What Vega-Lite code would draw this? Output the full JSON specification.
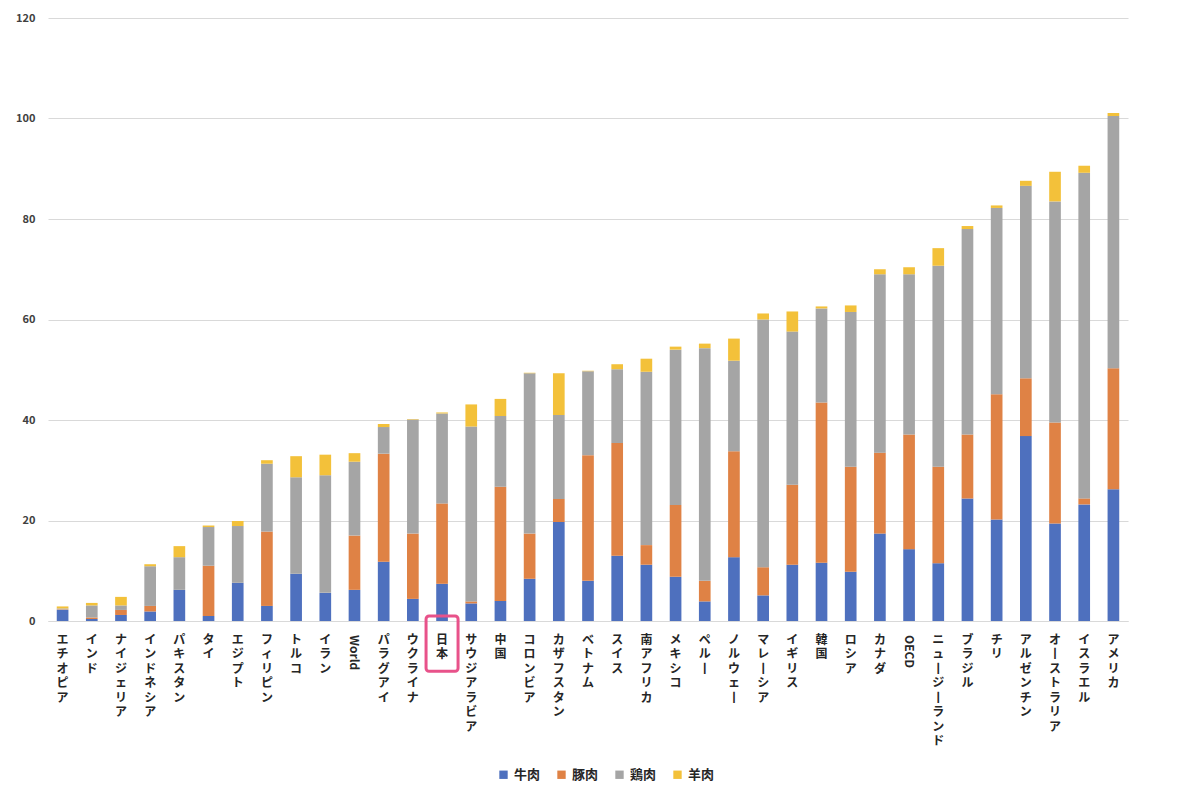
{
  "$schema": "https://vega.github.io/schema/vega-lite/v6.json",
  "width": 1080,
  "height": 603,
  "autosize": {"type": "none"},
  "padding": {"left": 48, "top": 18, "right": 61, "bottom": 180},
  "background": "white",
  "config": {
    "view": {"stroke": null},
    "font": "Noto Sans CJK JP"
  },
  "datasets": {
    "meat": [
      {"country": "エチオピア", "牛肉": 2.2, "豚肉": 0.1, "鶏肉": 0.2, "羊肉": 0.4},
      {"country": "インド", "牛肉": 0.4, "豚肉": 0.3, "鶏肉": 2.4, "羊肉": 0.5},
      {"country": "ナイジェリア", "牛肉": 1.2, "豚肉": 1.0, "鶏肉": 0.9, "羊肉": 1.7},
      {"country": "インドネシア", "牛肉": 1.9, "豚肉": 1.1, "鶏肉": 7.9, "羊肉": 0.4},
      {"country": "パキスタン", "牛肉": 6.2, "豚肉": 0, "鶏肉": 6.5, "羊肉": 2.2},
      {"country": "タイ", "牛肉": 1.0, "豚肉": 10.0, "鶏肉": 7.7, "羊肉": 0.3},
      {"country": "エジプト", "牛肉": 7.6, "豚肉": 0, "鶏肉": 11.3, "羊肉": 1.0},
      {"country": "フィリピン", "牛肉": 3.0, "豚肉": 14.8, "鶏肉": 13.5, "羊肉": 0.7},
      {"country": "トルコ", "牛肉": 9.4, "豚肉": 0, "鶏肉": 19.2, "羊肉": 4.2},
      {"country": "イラン", "牛肉": 5.6, "豚肉": 0, "鶏肉": 23.4, "羊肉": 4.1},
      {"country": "World", "牛肉": 6.2, "豚肉": 10.8, "鶏肉": 14.7, "羊肉": 1.7},
      {"country": "パラグアイ", "牛肉": 11.8, "豚肉": 21.5, "鶏肉": 5.3, "羊肉": 0.6},
      {"country": "ウクライナ", "牛肉": 4.4, "豚肉": 13.0, "鶏肉": 22.7, "羊肉": 0.1},
      {"country": "日本", "牛肉": 7.4, "豚肉": 16.0, "鶏肉": 17.9, "羊肉": 0.2},
      {"country": "サウジアラビア", "牛肉": 3.5, "豚肉": 0.4, "鶏肉": 34.8, "羊肉": 4.4},
      {"country": "中国", "牛肉": 4.0, "豚肉": 22.7, "鶏肉": 14.1, "羊肉": 3.4},
      {"country": "コロンビア", "牛肉": 8.4, "豚肉": 9.0, "鶏肉": 31.9, "羊肉": 0.1},
      {"country": "カザフスタン", "牛肉": 19.7, "豚肉": 4.6, "鶏肉": 16.7, "羊肉": 8.3},
      {"country": "ベトナム", "牛肉": 8.0, "豚肉": 25.0, "鶏肉": 16.7, "羊肉": 0.1},
      {"country": "スイス", "牛肉": 13.0, "豚肉": 22.4, "鶏肉": 14.7, "羊肉": 1.0},
      {"country": "南アフリカ", "牛肉": 11.2, "豚肉": 3.9, "鶏肉": 34.5, "羊肉": 2.6},
      {"country": "メキシコ", "牛肉": 8.8, "豚肉": 14.3, "鶏肉": 30.9, "羊肉": 0.6},
      {"country": "ペルー", "牛肉": 3.9, "豚肉": 4.1, "鶏肉": 46.3, "羊肉": 0.9},
      {"country": "ノルウェー", "牛肉": 12.7, "豚肉": 21.1, "鶏肉": 18.0, "羊肉": 4.4},
      {"country": "マレーシア", "牛肉": 5.1, "豚肉": 5.6, "鶏肉": 49.3, "羊肉": 1.2},
      {"country": "イギリス", "牛肉": 11.2, "豚肉": 15.9, "鶏肉": 30.5, "羊肉": 4.0},
      {"country": "韓国", "牛肉": 11.6, "豚肉": 31.9, "鶏肉": 18.7, "羊肉": 0.4},
      {"country": "ロシア", "牛肉": 9.8, "豚肉": 20.9, "鶏肉": 30.8, "羊肉": 1.3},
      {"country": "カナダ", "牛肉": 17.4, "豚肉": 16.1, "鶏肉": 35.5, "羊肉": 1.0},
      {"country": "OECD", "牛肉": 14.3, "豚肉": 22.8, "鶏肉": 31.9, "羊肉": 1.4},
      {"country": "ニュージーランド", "牛肉": 11.5, "豚肉": 19.2, "鶏肉": 40.0, "羊肉": 3.5},
      {"country": "ブラジル", "牛肉": 24.4, "豚肉": 12.7, "鶏肉": 40.9, "羊肉": 0.6},
      {"country": "チリ", "牛肉": 20.2, "豚肉": 24.9, "鶏肉": 37.1, "羊肉": 0.5},
      {"country": "アルゼンチン", "牛肉": 36.8, "豚肉": 11.5, "鶏肉": 38.3, "羊肉": 1.0},
      {"country": "オーストラリア", "牛肉": 19.4, "豚肉": 20.1, "鶏肉": 44.0, "羊肉": 5.9},
      {"country": "イスラエル", "牛肉": 23.2, "豚肉": 1.2, "鶏肉": 64.8, "羊肉": 1.4},
      {"country": "アメリカ", "牛肉": 26.2, "豚肉": 24.1, "鶏肉": 50.2, "羊肉": 0.6}
    ],
    "kinds": [
      {"kind": "牛肉", "rank": 1},
      {"kind": "豚肉", "rank": 2},
      {"kind": "鶏肉", "rank": 3},
      {"kind": "羊肉", "rank": 4}
    ]
  },
  "data": {"name": "meat"},
  "encoding": {
    "x": {
      "field": "country",
      "type": "nominal",
      "sort": null,
      "scale": {"paddingInner": 0.6, "paddingOuter": 0.3},
      "axis": {
        "title": null,
        "labelAngle": 0,
        "labelExpr": "datum.label == 'World' || datum.label == 'OECD' ? '' : split(join(split(datum.label, 'ー'), '丨'), '')",
        "labelAlign": "center",
        "labelBaseline": "top",
        "labelPadding": 13,
        "labelFontSize": 12,
        "labelFontWeight": "bold",
        "labelLineHeight": 14.5,
        "labelColor": "#262626",
        "labelOverlap": false,
        "labelLimit": 0,
        "ticks": false,
        "domainColor": "#D9D9D9"
      }
    }
  },
  "layer": [
    {
      "transform": [
        {"fold": ["牛肉", "豚肉", "鶏肉", "羊肉"], "as": ["kind", "value"]},
        {"lookup": "kind", "from": {"data": {"name": "kinds"}, "key": "kind", "fields": ["rank"]}}
      ],
      "mark": "bar",
      "encoding": {
        "y": {
          "field": "value",
          "type": "quantitative",
          "stack": "zero",
          "scale": {"domain": [0, 120]},
          "axis": {
            "title": null,
            "values": [0, 20, 40, 60, 80, 100, 120],
            "domain": false,
            "ticks": false,
            "labelPadding": 13,
            "labelFontSize": 11,
            "labelFontWeight": "bold",
            "labelColor": "#404040",
            "gridColor": "#D9D9D9"
          }
        },
        "color": {
          "field": "kind",
          "type": "nominal",
          "scale": {
            "domain": ["牛肉", "豚肉", "鶏肉", "羊肉"],
            "range": ["#4E70BE", "#DF8245", "#A5A5A5", "#F3C13A"]
          },
          "legend": {
            "title": null,
            "orient": "none",
            "legendX": 449,
            "legendY": 750,
            "direction": "horizontal",
            "symbolType": "square",
            "symbolSize": 70,
            "symbolStrokeWidth": 0,
            "labelFontSize": 13,
            "labelFontWeight": "bold",
            "labelColor": "#262626",
            "labelOffset": 4,
            "columnPadding": 14
          }
        },
        "order": {"field": "rank", "type": "quantitative"}
      }
    },
    {
      "transform": [{"filter": "datum.country == 'World' || datum.country == 'OECD'"}],
      "mark": {
        "type": "text",
        "angle": 90,
        "align": "left",
        "baseline": "middle",
        "dx": 14,
        "fontSize": 12,
        "fontWeight": "bold",
        "color": "#262626"
      },
      "encoding": {
        "y": {"datum": 0, "type": "quantitative"},
        "text": {"field": "country"}
      }
    },
    {
      "transform": [{"filter": "datum.country == '日本'"}],
      "mark": {
        "type": "bar",
        "width": 32,
        "filled": false,
        "stroke": "#E8528A",
        "strokeWidth": 3,
        "cornerRadius": 3
      },
      "encoding": {
        "y": {"datum": 1, "type": "quantitative"},
        "y2": {"datum": -10}
      }
    }
  ]
}
